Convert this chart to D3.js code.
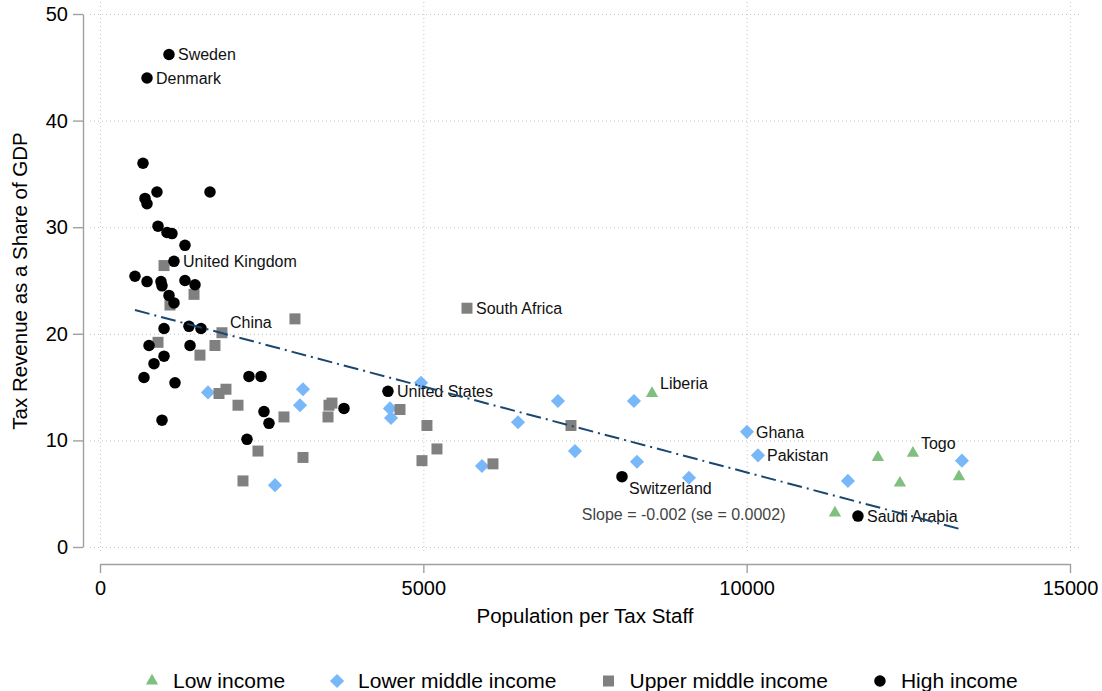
<!DOCTYPE html>
<html>
<head>
<meta charset="utf-8">
<script src="https://cdn.jsdelivr.net/npm/d3@7"></script>
<style>
  html, body { margin: 0; padding: 0; background: #fff; }
  svg { display: block; font-family: "Liberation Sans", Arial, Helvetica, sans-serif; }
</style>
</head>
<body>
<svg id="chart" width="1102" height="691"></svg>
<script>
// Each point: [population per tax staff, tax revenue as % of GDP, country label]
const lowIncome = [
  [8536, 14.4, "Liberia"], [12030, 8.4], [12571, 8.8, "Togo"], [12370, 6.0],
  [13283, 6.6], [11365, 3.2]
];
const lowerMiddleIncome = [
  [1670, 14.5], [3139, 14.8], [3093, 13.3], [2706, 5.8], [4964, 15.4],
  [4484, 13.0], [4500, 12.1], [5907, 7.6], [7082, 13.7], [6464, 11.7],
  [7345, 9.0], [8257, 13.7], [8304, 8.0], [9108, 6.5], [10005, 10.8, "Ghana"],
  [10175, 8.6, "Pakistan"], [11566, 6.2], [13329, 8.1]
];
const upperMiddleIncome = [
  [990, 26.4], [1454, 23.7], [1082, 22.7], [3015, 21.4], [1886, 20.1, "China"],
  [897, 19.2], [1778, 18.9], [1546, 18.0], [1840, 14.4], [1948, 14.8],
  [2134, 13.3], [2845, 12.2], [3541, 13.3], [3587, 13.5], [3526, 12.2],
  [2443, 9.0], [3139, 8.4], [2211, 6.2], [5675, 22.4, "South Africa"],
  [4639, 12.9], [5056, 11.4], [5211, 9.2], [4979, 8.1], [6077, 7.8], [7283, 11.4]
];
const highIncome = [
  [1067, 46.2, "Sweden"], [727, 44.0, "Denmark"], [665, 36.0], [696, 32.7],
  [727, 32.2], [881, 33.3], [1701, 33.3], [897, 30.1], [1036, 29.5], [1113, 29.4],
  [1314, 28.3], [1144, 26.8, "United Kingdom"], [541, 25.4], [727, 24.9],
  [943, 24.9], [959, 24.5], [1314, 25.0], [1469, 24.6], [1067, 23.6], [1144, 22.9],
  [1376, 20.7], [1562, 20.5], [990, 20.5], [758, 18.9], [1392, 18.9], [990, 17.9],
  [835, 17.2], [680, 15.9], [1160, 15.4], [2304, 16.0], [2490, 16.0], [2536, 12.7],
  [2613, 11.6], [959, 11.9], [2273, 10.1], [3773, 13.0], [4453, 14.6, "United States"],
  [8072, 6.6, "Switzerland"], [11721, 2.9, "Saudi Arabia"]
];

const groupNames = ["Low income", "Lower middle income", "Upper middle income", "High income"];
const xTicks = [0, 5000, 10000, 15000];
const yTicks = [0, 10, 20, 30, 40, 50];

// Linear fit of revenue share on population per tax staff
const fitIntercept = 23.1;
const fitSlope = -0.00161;
const slopeNote = "Slope = -0.002 (se = 0.0002)";
const slopeNoteAt = [7450, 2.5];

// Clock position of each country label relative to its marker
const labelClock = { "China": 2, "Liberia": 2, "Togo": 2, "Switzerland": 4 };

const svg = d3.select("#chart");
const x = d3.scaleLinear().domain([0, 15000]).range([100, 1070]);
const y = d3.scaleLinear().domain([0, 50]).range([547, 14]);

const groups = [
  { name: groupNames[0], data: lowIncome,         color: "#7fbf7f", shape: "triangle" },
  { name: groupNames[1], data: lowerMiddleIncome, color: "#78b8f8", shape: "diamond" },
  { name: groupNames[2], data: upperMiddleIncome, color: "#808080", shape: "square" },
  { name: groupNames[3], data: highIncome,        color: "#000000", shape: "circle" }
];

const symbolFor = {
  triangle: { path: d3.symbol(d3.symbolTriangle, 66)(), rotate: 0 },
  diamond:  { path: d3.symbol(d3.symbolSquare, 100)(), rotate: 45 },
  square:   { path: d3.symbol(d3.symbolSquare, 121)(), rotate: 0 },
  circle:   { path: d3.symbol(d3.symbolCircle, 104)(), rotate: 0 }
};

// Dotted grid
const grid = svg.append("g").attr("stroke", "#c4c4c4").attr("stroke-width", 1)
  .attr("stroke-dasharray", "1,3");
grid.selectAll("line.h").data(yTicks).join("line").attr("class", "h")
  .attr("x1", 90).attr("x2", 1080)
  .attr("y1", d => y(d) + 0.5).attr("y2", d => y(d) + 0.5);
grid.selectAll("line.v").data(xTicks).join("line").attr("class", "v")
  .attr("y1", 2).attr("y2", 552)
  .attr("x1", d => x(d) + 0.5).attr("x2", d => x(d) + 0.5);

// Axes
const yAxis = svg.append("g").attr("transform", "translate(83,0)")
  .call(d3.axisLeft(y).tickValues(yTicks).tickSize(10).tickSizeOuter(0).tickPadding(5));
const xAxis = svg.append("g").attr("transform", "translate(0,564)")
  .call(d3.axisBottom(x).tickValues(xTicks).tickFormat(d3.format("d")).tickSize(9).tickSizeOuter(0).tickPadding(8));
[yAxis, xAxis].forEach(g => {
  g.select(".domain").attr("stroke", "#a0a0a0").attr("stroke-width", 1.4);
  g.selectAll(".tick line").attr("stroke", "#a0a0a0").attr("stroke-width", 1.4);
  g.selectAll(".tick text").attr("fill", "#000").attr("font-size", 20)
    .attr("font-family", "'Liberation Sans', Arial, sans-serif");
});

// Axis titles
svg.append("text").attr("transform", "translate(27,281) rotate(-90)")
  .attr("text-anchor", "middle").attr("font-size", 20.5).attr("fill", "#000")
  .text("Tax Revenue as a Share of GDP");
svg.append("text").attr("x", 585).attr("y", 623)
  .attr("text-anchor", "middle").attr("font-size", 20.5).attr("fill", "#000")
  .text("Population per Tax Staff");

// Markers
const marks = svg.append("g");
groups.forEach(g => {
  const sym = symbolFor[g.shape];
  marks.append("g").selectAll("path").data(g.data).join("path")
    .attr("d", sym.path)
    .attr("transform", d => `translate(${x(d[0])},${y(d[1])}) rotate(${sym.rotate})`)
    .attr("fill", g.color);
});

// Country labels
const clockOffset = {
  3: { dx: 9, dy: 0 },
  2: { dx: 8, dy: -10 },
  4: { dx: 7, dy: 12 }
};
const labelled = groups.flatMap(g => g.data.filter(d => d[2]));
svg.append("g").selectAll("text").data(labelled).join("text")
  .attr("x", d => x(d[0]) + clockOffset[labelClock[d[2]] || 3].dx)
  .attr("y", d => y(d[1]) + clockOffset[labelClock[d[2]] || 3].dy)
  .attr("dy", "0.36em")
  .attr("font-size", 16).attr("fill", "#111")
  .text(d => d[2]);

// Fitted line across the observed range
const allX = groups.flatMap(g => g.data.map(d => d[0]));
const fitX = d3.extent(allX);
svg.append("path")
  .datum(fitX.map(v => [v, fitIntercept + fitSlope * v]))
  .attr("d", d3.line().x(d => x(d[0])).y(d => y(d[1])))
  .attr("fill", "none").attr("stroke", "#1a476f").attr("stroke-width", 2)
  .attr("stroke-dasharray", "15,5,2,5");

svg.append("text").attr("x", x(slopeNoteAt[0])).attr("y", y(slopeNoteAt[1]))
  .attr("font-size", 16).attr("fill", "#444").text(slopeNote);

// Legend
const legend = svg.append("g").attr("transform", "translate(0,681)");
let lx = 152;
groups.forEach(g => {
  const sym = symbolFor[g.shape];
  legend.append("path").attr("d", sym.path)
    .attr("transform", `translate(${lx},0) rotate(${sym.rotate})`).attr("fill", g.color);
  const t = legend.append("text").attr("x", lx + 21).attr("y", 7)
    .attr("font-size", 21).attr("fill", "#000").text(g.name);
  lx += 21 + t.node().getComputedTextLength() + 52;
});
</script>
</body>
</html>
